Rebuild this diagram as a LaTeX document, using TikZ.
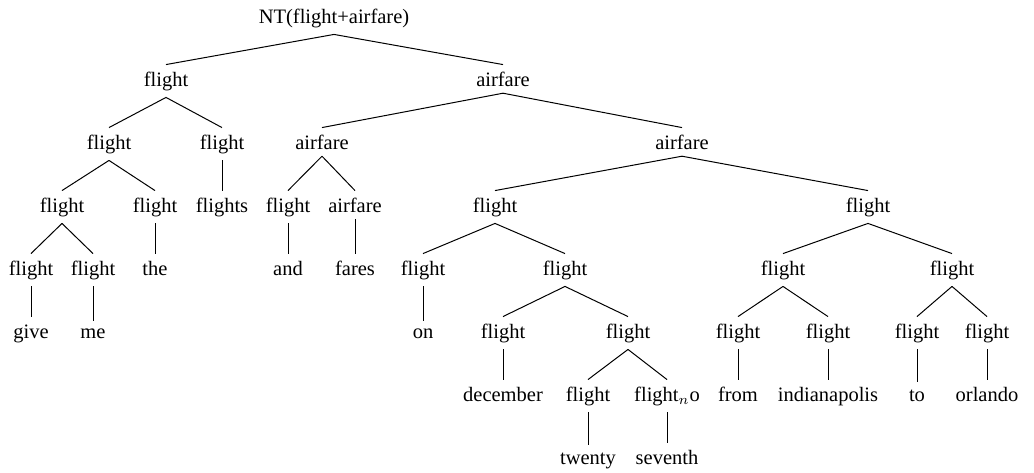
\documentclass[tikz,border=0pt]{standalone}
\usepackage{fontspec}
\setmainfont{Liberation Serif}
\usepackage{tikz}

\begin{document}
\begin{tikzpicture}[-,x=0.5pt,y=-0.5pt,line width=0.5pt]
\tikzstyle{every node}=[inner sep=3.5pt,outer sep=0pt,anchor=base]
\tikzset{font=\fontsize{10.25pt}{12}\selectfont}

\useasboundingbox (0,0) rectangle (1034,472);

        \node                (0)   at (334,23)          {NT(flight+airfare)};

        \node                (1)   at (166,86)          {flight};
        \node                (2)   at (503,86)          {airfare};

        \node                (3)   at (109,149)         {flight};
        \node                (4)   at (222,149)         {flight};
        \node                (5)   at (322,149)         {airfare};
        \node                (6)   at (682,149)         {airfare};

        \node                (7)   at (62,212)          {flight};
        \node                (8)   at (155,212)         {flight};
        \node                (9)   at (222,212)         {flights};
        \node                (10)  at (288,212)         {flight};
        \node                (11)  at (355,212)         {airfare};
        \node                (12)  at (495,212)         {flight};
        \node                (13)  at (868,212)         {flight};

        \node                (14)  at (31,275)          {flight};
        \node                (15)  at (93,275)          {flight};
        \node                (16)  at (155,275)         {the};
        \node                (17)  at (288,275)         {and};
        \node                (18)  at (355,275)         {fares};
        \node                (19)  at (423,275)         {flight};
        \node                (20)  at (565,275)         {flight};
        \node                (21)  at (783,275)         {flight};
        \node                (22)  at (952,275)         {flight};

        \node                (23)  at (31,338)          {give};
        \node                (24)  at (93,338)          {me};
        \node                (25)  at (423,338)         {on};
        \node                (26)  at (503,338)         {flight};
        \node                (27)  at (628,338)         {flight};
        \node                (28)  at (738,338)         {flight};
        \node                (29)  at (828,338)         {flight};
        \node                (30)  at (917,338)         {flight};
        \node                (31)  at (987,338)         {flight};

        \node                (32)  at (503,401)         {december};
        \node                (33)  at (588,401)         {flight};
        \node                (34)  at (667,401)         {flight$_n$o};
        \node                (35)  at (738,401)         {from};
        \node                (36)  at (828,401)         {indianapolis};
        \node                (37)  at (917,401)         {to};
        \node                (38)  at (987,401)         {orlando};

        \node                (39)  at (588,464)         {twenty};
        \node                (40)  at (667,464)         {seventh};

        \path[draw]
        (0.south)  edge (1.north)   (0.south)  edge (2.north)
        (1.south)  edge (3.north)   (1.south)  edge (4.north)
        (2.south)  edge (5.north)   (2.south)  edge (6.north)
        (3.south)  edge (7.north)   (3.south)  edge (8.north)
        (4.south)  edge (9.north)
        (5.south)  edge (10.north)  (5.south)  edge (11.north)
        (6.south)  edge (12.north)  (6.south)  edge (13.north)
        (7.south)  edge (14.north)  (7.south)  edge (15.north)
        (8.south)  edge (16.north)
        (10.south) edge (17.north)
        (11.south) edge (18.north)
        (12.south) edge (19.north)  (12.south) edge (20.north)
        (13.south) edge (21.north)  (13.south) edge (22.north)
        (14.south) edge (23.north)
        (15.south) edge (24.north)
        (19.south) edge (25.north)
        (20.south) edge (26.north)  (20.south) edge (27.north)
        (21.south) edge (28.north)  (21.south) edge (29.north)
        (22.south) edge (30.north)  (22.south) edge (31.north)
        (26.south) edge (32.north)
        (27.south) edge (33.north)  (27.south) edge (34.north)
        (28.south) edge (35.north)
        (29.south) edge (36.north)
        (30.south) edge (37.north)
        (31.south) edge (38.north)
        (33.south) edge (39.north)
        (34.south) edge (40.north)
        ; %end path

\end{tikzpicture}
\end{document}
